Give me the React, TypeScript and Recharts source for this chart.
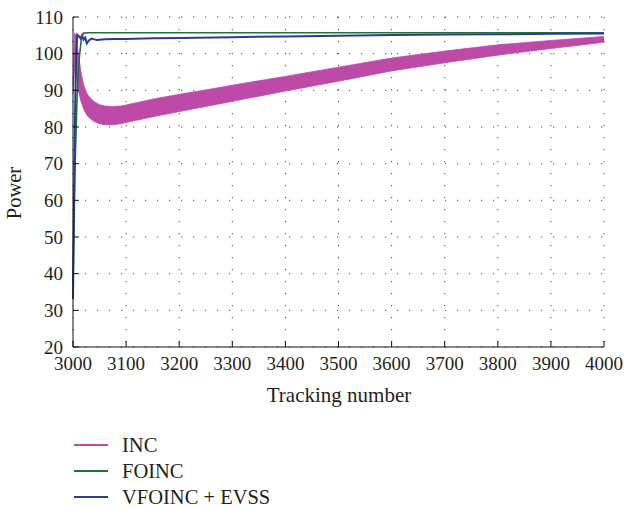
import React from 'react';
import { ComposedChart, Area, Line, XAxis, YAxis, CartesianGrid, Label } from 'recharts';

// tracking numbers on the x axis
const xTicks = [3000, 3100, 3200, 3300, 3400, 3500, 3600, 3700, 3800, 3900, 4000];
const yTicks = [20, 30, 40, 50, 60, 70, 80, 90, 100, 110];

// INC oscillates quickly, so it shows up as a band (low / high envelope)
const incX = [3000, 3003, 3006, 3010, 3015, 3020, 3025, 3030, 3040, 3050, 3060, 3075, 3090, 3100, 3150, 3200, 3250, 3300, 3400, 3500, 3600, 3700, 3800, 3900, 4000];
const incLow = [89, 96, 94, 90, 87, 85, 83.5, 82.6, 81.5, 80.9, 80.6, 80.6, 80.9, 81.2, 82.8, 84.2, 85.6, 87, 89.8, 92.5, 95.3, 97.5, 99.6, 101.4, 103.1];
const incHigh = [91, 105.5, 105, 100, 95, 91.5, 89.5, 88.3, 86.9, 86.1, 85.7, 85.6, 85.7, 86, 87.6, 88.9, 90.1, 91.4, 93.8, 96.3, 98.8, 100.7, 102.4, 103.6, 104.7];

const foincX = [3000, 3004, 3008, 3012, 3016, 3020, 3030, 3100, 3500, 4000];
const foinc = [38, 70, 90, 99, 104.5, 105.6, 105.7, 105.7, 105.7, 105.7];

const vfoincX = [3000, 3002, 3004, 3006, 3008, 3011, 3014, 3017, 3020, 3023, 3026, 3030, 3035, 3045, 3060, 3080, 3100, 3150, 3200, 3300, 3400, 3500, 3600, 3700, 3800, 3900, 4000];
const vfoinc = [33, 60, 85, 100, 105.2, 104.8, 104.2, 105, 103.8, 104.4, 102.8, 103.6, 104.1, 103.7, 103.9, 104, 104, 104.2, 104.3, 104.5, 104.7, 104.9, 105.1, 105.2, 105.3, 105.4, 105.5];

const seriesNames = ['INC', 'FOINC', 'VFOINC + EVSS'];
const seriesColors = ['#BC4AA6', '#26703A', '#2B3A94'];

const FONT = "'Liberation Serif', 'DejaVu Serif', serif";
const TEXT = '#231F20';

const incData = incX.map((x, i) => ({ x, range: [incLow[i], incHigh[i]] }));
const foincData = foincX.map((x, i) => ({ x, y: foinc[i] }));
const vfoincData = vfoincX.map((x, i) => ({ x, y: vfoinc[i] }));

const tickStyle = { fill: TEXT, fontSize: 19, fontFamily: FONT, style: { fontFamily: FONT } };

const App: React.FC = () => {
  return (
    <div style={{ position: 'absolute', left: 0, top: 0, width: 624, height: 508, background: '#fff', fontFamily: FONT }}>
      <ComposedChart width={624} height={508} margin={{ top: 17, right: 20, left: 13, bottom: 0 }} style={{ fontFamily: FONT }}>
        <CartesianGrid stroke="#444" strokeDasharray="1.2 10.8" xAxisId="bottom" yAxisId="left" />
        <XAxis
          xAxisId="bottom"
          dataKey="x"
          type="number"
          domain={[3000, 4000]}
          ticks={xTicks}
          height={161}
          interval={0}
          stroke="#111"
          tickSize={-6}
          tickMargin={16}
          tick={tickStyle}
        >
          <Label
            content={() => (
              <text x={339} y={402} textAnchor="middle" fill={TEXT} fontSize={21} style={{ fontFamily: FONT }}>
                Tracking number
              </text>
            )}
          />
        </XAxis>
        <XAxis
          xAxisId="top"
          orientation="top"
          dataKey="x"
          type="number"
          domain={[3000, 4000]}
          ticks={xTicks}
          height={0}
          stroke="#111"
          tickSize={-6}
          tickFormatter={() => ''}
        />
        <YAxis
          yAxisId="left"
          type="number"
          domain={[20, 110]}
          ticks={yTicks}
          width={60}
          interval={0}
          stroke="#111"
          tickSize={-6}
          tickMargin={16}
          tick={tickStyle}
          allowDataOverflow
        >
          <Label
            content={() => (
              <text
                x={21}
                y={193}
                transform="rotate(-90 21 193)"
                textAnchor="middle"
                fill={TEXT}
                fontSize={20.5}
                style={{ fontFamily: FONT }}
              >
                Power
              </text>
            )}
          />
        </YAxis>
        <YAxis
          yAxisId="right"
          orientation="right"
          type="number"
          domain={[20, 110]}
          ticks={yTicks}
          width={0}
          stroke="#111"
          tickSize={-6}
          tickFormatter={() => ''}
        />
        <Area
          xAxisId="bottom"
          yAxisId="left"
          data={incData}
          dataKey="range"
          type="linear"
          stroke={seriesColors[0]}
          strokeWidth={0.8}
          fill={seriesColors[0]}
          fillOpacity={1}
          isAnimationActive={false}
          dot={false}
          activeDot={false}
        />
        <Line
          xAxisId="bottom"
          yAxisId="left"
          data={foincData}
          dataKey="y"
          type="linear"
          stroke={seriesColors[1]}
          strokeWidth={1.6}
          dot={false}
          activeDot={false}
          isAnimationActive={false}
        />
        <Line
          xAxisId="bottom"
          yAxisId="left"
          data={vfoincData}
          dataKey="y"
          type="linear"
          stroke={seriesColors[2]}
          strokeWidth={2}
          dot={false}
          activeDot={false}
          isAnimationActive={false}
        />
      </ComposedChart>

      {/* legend sits under the plot, lines on the left */}
      <div style={{ position: 'absolute', left: 74, top: 432, color: TEXT, fontSize: 20.5, lineHeight: '26px', fontFamily: FONT }}>
        {seriesNames.map((name, i) => (
          <div key={name} style={{ display: 'flex', alignItems: 'center', height: 26 }}>
            <span style={{ display: 'inline-block', width: 34, height: 2, background: seriesColors[i], marginRight: 14 }} />
            <span>{name}</span>
          </div>
        ))}
      </div>
    </div>
  );
};

export default App;
